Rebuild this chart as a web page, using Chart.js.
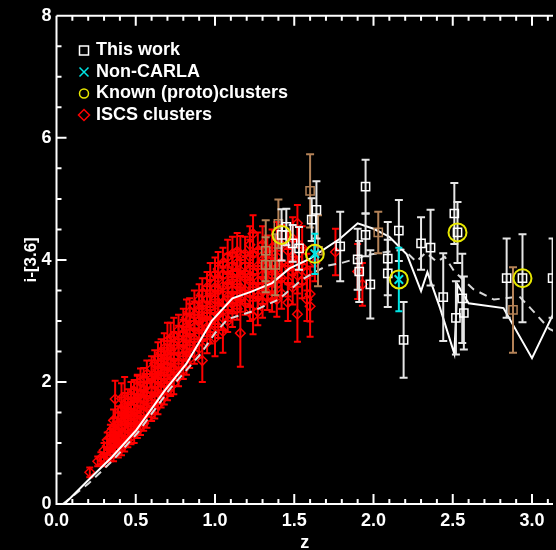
<!DOCTYPE html>
<html>
<head>
<meta charset="utf-8">
<script src="https://cdn.jsdelivr.net/npm/chart.js@4.4.1/dist/chart.umd.min.js"></script>
<style>
html,body{margin:0;padding:0;background:#000;}
#wrap{width:556px;height:550px;overflow:hidden;}
</style>
</head>
<body>
<div id="wrap"><canvas id="chart" width="564" height="550"></canvas></div>
<script>
// axis ticks
var xTicks = [0, 0.5, 1.0, 1.5, 2.0, 2.5, 3.0];
var yTicks = [0, 2, 4, 6, 8];
var legendLabels = ["This work", "Non-CARLA", "Known (proto)clusters", "ISCS clusters"];

// model tracks
var modelZ = [0.05,0.20,0.35,0.50,0.68,0.82,0.98,1.11,1.23,1.36,1.47,1.60,1.79,1.90,2.00,2.10,2.21,2.30,2.34,2.42,2.51,2.53,2.60,2.82,3.00,3.15];
var modelY = [0.00,0.39,0.77,1.20,1.85,2.30,3.00,3.37,3.48,3.62,3.86,4.02,4.35,4.60,4.51,4.38,4.09,3.49,3.80,3.21,2.46,3.60,3.29,3.21,2.39,3.20];
var dashZ = [0.04,0.20,0.35,0.51,0.72,0.91,1.00,1.08,1.24,1.40,1.55,1.70,1.80,1.98,2.19,2.27,2.33,2.40,2.45,2.51,2.63,2.76,2.92,2.99,3.11,3.20];
var dashY = [0.00,0.33,0.70,1.16,1.90,2.46,2.80,3.03,3.16,3.35,3.68,3.90,3.95,4.09,4.17,3.97,4.12,3.97,4.05,3.81,3.52,3.35,3.40,3.21,2.87,2.75];

// this work (white squares)
var workZ =   [1.42,1.45,1.49,1.53,1.61,1.64,1.79,1.90,1.91,1.95,1.95,1.98,2.09,2.09,2.16,2.19,2.30,2.36,2.44,2.51,2.53,2.52,2.56,2.57,2.84,2.94,3.13];
var workY =   [4.41,4.54,4.27,4.19,4.66,4.82,4.22,4.01,3.81,5.20,4.41,3.60,4.02,3.78,4.48,2.69,4.27,4.20,3.39,4.76,4.45,3.05,3.37,3.13,3.70,3.70,3.70];
var workErr = [0.42,0.30,0.30,0.35,0.35,0.47,0.57,0.50,0.50,0.44,0.35,0.56,0.60,0.55,0.50,0.62,0.43,0.62,0.72,0.50,0.50,0.60,0.73,0.60,0.65,0.72,0.65];
// this work, second sample (tan squares)
var tanZ =   [1.32,1.32,1.38,1.40,1.60,1.65,2.03,2.88];
var tanY =   [4.15,3.92,3.92,4.59,5.13,4.15,4.45,3.18];
var tanErr = [0.50,0.45,0.50,0.40,0.60,0.58,0.34,0.70];
// non-CARLA
var ncZ =   [1.63,2.16];
var ncY =   [4.10,3.68];
var ncErr = [0.33,0.52];
// known (proto)clusters
var knownZ = [1.42,1.63,2.16,2.53,2.94];
var knownY = [4.41,4.10,3.68,4.45,3.70];

// ISCS clusters, grouped by redshift
var iscsZ = [0.21,0.26,0.28,0.30,0.32,0.34,0.36,0.37,0.39,0.41,0.43,0.45,0.47,0.49,0.51,0.53,0.55,0.57,0.60,0.62,0.64,0.66,0.68,0.70,0.72,0.74,0.77,0.80,0.82,0.84,0.87,0.90,0.92,0.95,0.97,1.00,1.02,1.05,1.08,1.11,1.14,1.16,1.19,1.22,1.24,1.27,1.30,1.33,1.36,1.39,1.42,1.46,1.49,1.52,1.55,1.58,1.60,1.63,1.76,1.90,1.93];
var iscsY = [
 [0.52],[0.70],[0.75],[0.72,0.88],[0.78,0.95,1.05],[0.80,0.92,1.08,1.18],
 [0.82,0.98,1.12,1.25,1.37],[1.72,0.90,1.05,1.20],[0.88,1.02,1.18,1.32,1.45],
 [0.92,1.08,1.25,1.40,1.55,1.73],[0.98,1.15,1.30,1.45,1.62,1.58],[1.05,1.22,1.38,1.52,1.70],
 [1.10,1.28,1.45,1.60,1.78],[1.15,1.32,1.50,1.68,1.85],[1.20,1.38,1.55,1.75,1.92],
 [1.28,1.45,1.62,1.80,2.00],[1.32,1.50,1.70,1.88,2.05],[1.40,1.58,1.78,1.95,2.13],
 [1.48,1.65,1.85,2.05,2.22],[1.55,1.75,1.95,2.12,2.30],[1.62,1.82,2.02,2.20,2.40],
 [1.70,1.90,2.10,2.30,2.48],[1.78,1.98,2.18,2.38,2.55],[1.85,2.05,2.25,2.45,2.67],
 [1.92,2.12,2.32,2.52,2.72],[1.98,2.20,2.40,2.60,2.75],[2.08,2.30,2.50,2.70,2.85],
 [2.20,2.42,2.62,2.80,2.95],[2.30,2.50,2.70,2.90,3.05],[2.38,2.60,2.80,3.03,3.15],
 [2.48,2.70,2.90,3.10,3.25],[2.55,2.78,3.00,3.20,3.35],[2.35,2.85,3.05,3.28,3.45],
 [2.65,2.90,3.12,3.35,3.55],[2.83,3.00,3.22,3.45,3.70],[2.72,2.95,3.15,3.35,3.55,3.76],
 [2.90,3.10,3.30,3.50,3.70,3.85],[2.83,3.05,3.30,3.57,3.75,3.95],[3.00,3.20,3.40,3.60,3.85,4.05],
 [3.10,3.30,3.50,3.70,3.90,4.10],[3.20,3.40,3.60,3.80,3.95,4.14],[2.80,3.35,3.55,3.75,4.09],
 [3.30,3.50,3.70,3.90,4.10],[3.20,3.45,3.65,3.85,4.05,4.25],[3.08,3.55,3.80,4.10,4.43],
 [3.15,3.40,3.65,3.90,4.15],[3.30,3.50,3.75,4.00,4.25],[3.40,3.60,3.85,4.10],
 [3.40,3.54,3.75,3.95,4.20],[3.35,3.60,3.85,4.05,4.30],[3.45,3.70,3.95,4.25],
 [3.30,3.65,3.90,4.15],[3.55,3.80,4.05,4.35],[3.11,3.75,4.60],[3.65,3.90,4.20],
 [3.35,3.80],[3.44,3.24],[3.95],[4.13],[3.81],[3.60]
];
var iscsErr = [
 [0.08],[0.08],[0.10],[0.10,0.12],[0.10,0.12,0.12],[0.10,0.12,0.15,0.12],
 [0.12,0.12,0.15,0.15,0.18],[0.30,0.12,0.12,0.15],[0.12,0.15,0.15,0.18,0.15],
 [0.12,0.15,0.15,0.18,0.20,0.25],[0.12,0.15,0.18,0.15,0.20,0.50],[0.12,0.15,0.18,0.20,0.18],
 [0.12,0.15,0.18,0.20,0.22],[0.15,0.15,0.18,0.20,0.18],[0.12,0.15,0.20,0.35,0.20],
 [0.15,0.15,0.18,0.20,0.22],[0.12,0.18,0.15,0.20,0.18],[0.15,0.15,0.20,0.18,0.22],
 [0.12,0.18,0.20,0.30,0.20],[0.15,0.15,0.18,0.20,0.22],[0.15,0.18,0.20,0.22,0.25],
 [0.12,0.15,0.18,0.20,0.22],[0.15,0.18,0.20,0.18,0.25],[0.15,0.15,0.20,0.22,0.30],
 [0.15,0.18,0.20,0.22,0.25],[0.18,0.15,0.20,0.22,0.30],[0.15,0.18,0.20,0.22,0.25],
 [0.15,0.18,0.20,0.22,0.25],[0.18,0.15,0.20,0.22,0.30],[0.15,0.18,0.20,0.25,0.22],
 [0.18,0.15,0.20,0.22,0.25],[0.15,0.18,0.20,0.22,0.25],[0.35,0.18,0.20,0.22,0.25],
 [0.18,0.15,0.20,0.22,0.25],[0.20,0.18,0.20,0.22,0.25],[0.30,0.18,0.20,0.22,0.25,0.28],
 [0.18,0.20,0.20,0.22,0.25,0.28],[0.35,0.20,0.18,0.30,0.22,0.25],[0.18,0.20,0.22,0.20,0.25,0.28],
 [0.20,0.18,0.22,0.25,0.22,0.28],[0.18,0.20,0.22,0.25,0.22,0.30],[0.55,0.20,0.22,0.25,0.30],
 [0.20,0.22,0.25,0.22,0.28],[0.20,0.22,0.25,0.22,0.28,0.30],[0.30,0.22,0.25,0.35,0.30],
 [0.22,0.20,0.25,0.28,0.30],[0.25,0.22,0.25,0.28,0.30],[0.22,0.25,0.28,0.30],
 [0.25,0.22,0.28,0.25,0.30],[0.28,0.25,0.30,0.28,0.32],[0.25,0.28,0.30,0.32],
 [0.30,0.25,0.28,0.32],[0.28,0.25,0.30,0.35],[0.45,0.30,0.30],[0.28,0.30,0.35],
 [0.35,0.30],[0.45,0.50],[0.30],[0.38],[0.45],[0.35]
];

// font used for all labels
var FAM = '"Liberation Sans", Arial, sans-serif';
var FS = 18;
var PX_PER_Z = 158.5;   // horizontal scale of the original plot

function pts(zs, ys){
  var out = [];
  for (var i = 0; i < zs.length; i++) out.push({x: zs[i], y: ys[i]});
  return out;
}
var iscsPts = [], iscsE = [];
for (var g = 0; g < iscsZ.length; g++){
  for (var k = 0; k < iscsY[g].length; k++){
    iscsPts.push({x: iscsZ[g], y: iscsY[g][k]});
    iscsE.push(iscsErr[g][k]);
  }
}

var YELLOW = "#e8e800", CYAN = "#00e5e5", TAN = "#b48257", RED = "#ff0000";

var errorBars = {
  id: "errorBars",
  beforeDatasetDraw: function(chart, args){
    var ds = chart.data.datasets[args.index];
    if (!ds.errors) return;
    var ctx = chart.ctx, xs = chart.scales.x, ys = chart.scales.y, a = chart.chartArea;
    ctx.save();
    ctx.beginPath(); ctx.rect(a.left, a.top, a.right - a.left, a.bottom - a.top); ctx.clip();
    ctx.strokeStyle = ds.barColor;
    ctx.lineWidth = ds.barWidth;
    var cap = ds.capHalf;
    for (var i = 0; i < ds.data.length; i++){
      var p = ds.data[i], e = ds.errors[i];
      var px = xs.getPixelForValue(p.x);
      var t = ys.getPixelForValue(p.y + e), b = ys.getPixelForValue(p.y - e);
      ctx.beginPath();
      ctx.moveTo(px, t); ctx.lineTo(px, b);
      ctx.moveTo(px - cap, t); ctx.lineTo(px + cap, t);
      ctx.moveTo(px - cap, b); ctx.lineTo(px + cap, b);
      ctx.stroke();
    }
    ctx.restore();
  }
};

var frame = {
  id: "frame",
  afterDatasetsDraw: function(chart){
    var ctx = chart.ctx, xs = chart.scales.x, ys = chart.scales.y, a = chart.chartArea;
    ctx.save();
    ctx.strokeStyle = "#ffffff";
    ctx.lineWidth = 2;
    ctx.beginPath();
    ctx.moveTo(a.left, a.top); ctx.lineTo(a.right, a.top);
    ctx.moveTo(a.left, a.top); ctx.lineTo(a.left, a.bottom); ctx.lineTo(a.right, a.bottom);
    for (var i = 0; i <= 34; i++){
      var px = xs.getPixelForValue(i / 10);
      if (px > a.right) break;
      var len = (i % 5 === 0) ? 10 : 5;
      ctx.moveTo(px, a.bottom); ctx.lineTo(px, a.bottom - len);
      ctx.moveTo(px, a.top); ctx.lineTo(px, a.top + len);
    }
    for (var j = 0; j <= 16; j++){
      var py = ys.getPixelForValue(j / 2);
      var l2 = (j % 4 === 0) ? 10 : 5;
      ctx.moveTo(a.left, py); ctx.lineTo(a.left + l2, py);
    }
    ctx.stroke();

    // legend
    var rows = [50, 72, 93, 115], sx = 84, tx = 96;
    ctx.font = "bold 18px " + FAM;
    ctx.fillStyle = "#ffffff";
    ctx.textBaseline = "middle";
    ctx.textAlign = "left";
    for (var r = 0; r < legendLabels.length; r++) ctx.fillText(legendLabels[r], tx, rows[r]);
    ctx.lineWidth = 1.5;
    ctx.strokeStyle = "#ffffff";
    ctx.strokeRect(sx - 4.5, rows[0] - 4, 9, 9);
    ctx.strokeStyle = CYAN;
    ctx.beginPath();
    ctx.moveTo(sx - 4.5, rows[1] - 4.5); ctx.lineTo(sx + 4.5, rows[1] + 4.5);
    ctx.moveTo(sx + 4.5, rows[1] - 4.5); ctx.lineTo(sx - 4.5, rows[1] + 4.5);
    ctx.stroke();
    ctx.strokeStyle = YELLOW;
    ctx.beginPath(); ctx.arc(sx, rows[2] + 0.5, 4.5, 0, Math.PI * 2); ctx.stroke();
    ctx.strokeStyle = RED;
    ctx.beginPath();
    ctx.moveTo(sx, rows[3] - 5.5); ctx.lineTo(sx + 5.5, rows[3]); ctx.lineTo(sx, rows[3] + 5.5); ctx.lineTo(sx - 5.5, rows[3]); ctx.closePath();
    ctx.stroke();
    ctx.restore();
  }
};

var tickFont = {family: FAM, size: FS, weight: "bold"};

var chart = new Chart(document.getElementById("chart"), {
  type: "scatter",
  data: {
    datasets: [
      {label: "known", data: pts(knownZ, knownY), pointStyle: "circle", pointRadius: 9, borderColor: YELLOW, borderWidth: 2, backgroundColor: "transparent"},
      {label: "noncarla", data: pts(ncZ, ncY), errors: ncErr, barColor: CYAN, barWidth: 2, capHalf: 3.5, pointStyle: "crossRot", pointRadius: 6, borderColor: CYAN, borderWidth: 2},
      {label: "work", data: pts(workZ, workY), errors: workErr, barColor: "#e6e6e6", barWidth: 2, capHalf: 4, pointStyle: "rect", pointRadius: 5.8, borderColor: "#ffffff", borderWidth: 1.5, backgroundColor: "transparent"},
      {label: "work2", data: pts(tanZ, tanY), errors: tanErr, barColor: TAN, barWidth: 2, capHalf: 4, pointStyle: "rect", pointRadius: 5.8, borderColor: TAN, borderWidth: 1.5, backgroundColor: "transparent"},
      {label: "model", data: pts(modelZ, modelY), showLine: true, pointRadius: 0, borderColor: "#ffffff", borderWidth: 2, tension: 0},
      {label: "model2", data: pts(dashZ, dashY), showLine: true, pointRadius: 0, borderColor: "#d8d8d8", borderWidth: 2, borderDash: [8, 6], tension: 0},
      {label: "iscs", data: iscsPts, errors: iscsE, barColor: RED, barWidth: 2, capHalf: 3.5, pointStyle: "rectRot", pointRadius: 4.8, borderColor: RED, borderWidth: 1.5, backgroundColor: "transparent"}
    ]
  },
  options: {
    responsive: false,
    animation: false,
    events: [],
    layout: {padding: {top: 12.5, right: 0, bottom: 0, left: 0}},
    plugins: {legend: {display: false}, tooltip: {enabled: false}},
    scales: {
      x: {
        type: "linear", min: 0, max: 3.2,
        afterBuildTicks: function(s){ s.ticks = xTicks.map(function(v){ return {value: v}; }); },
        afterFit: function(s){ s.height = 46; },
        ticks: {color: "#ffffff", font: tickFont, padding: 6, maxRotation: 0, autoSkip: false,
          callback: function(v){ return Number(v).toFixed(1); }},
        grid: {display: false, drawTicks: false},
        border: {display: false},
        title: {display: true, text: "z", color: "#ffffff", font: {family: FAM, size: 18, weight: "bold", lineHeight: 1}, padding: {top: 0, bottom: -2}}
      },
      y: {
        type: "linear", min: 0, max: 8,
        afterBuildTicks: function(s){ s.ticks = yTicks.map(function(v){ return {value: v}; }); },
        afterFit: function(s){ s.width = 56.5; },
        ticks: {color: "#ffffff", font: tickFont, padding: 5,
          callback: function(v){ return String(v); }},
        grid: {display: false, drawTicks: false},
        border: {display: false},
        title: {display: true, text: "i-[3.6]", color: "#ffffff", font: {family: FAM, size: 17, weight: "bold", lineHeight: 1}, padding: {top: 22.5, bottom: 0}}
      }
    }
  },
  plugins: [errorBars, frame]
});

// match the horizontal scale of the original figure
var area = chart.chartArea;
chart.options.scales.x.max = (area.right - area.left) / PX_PER_Z;
chart.update();
</script>
</body>
</html>
